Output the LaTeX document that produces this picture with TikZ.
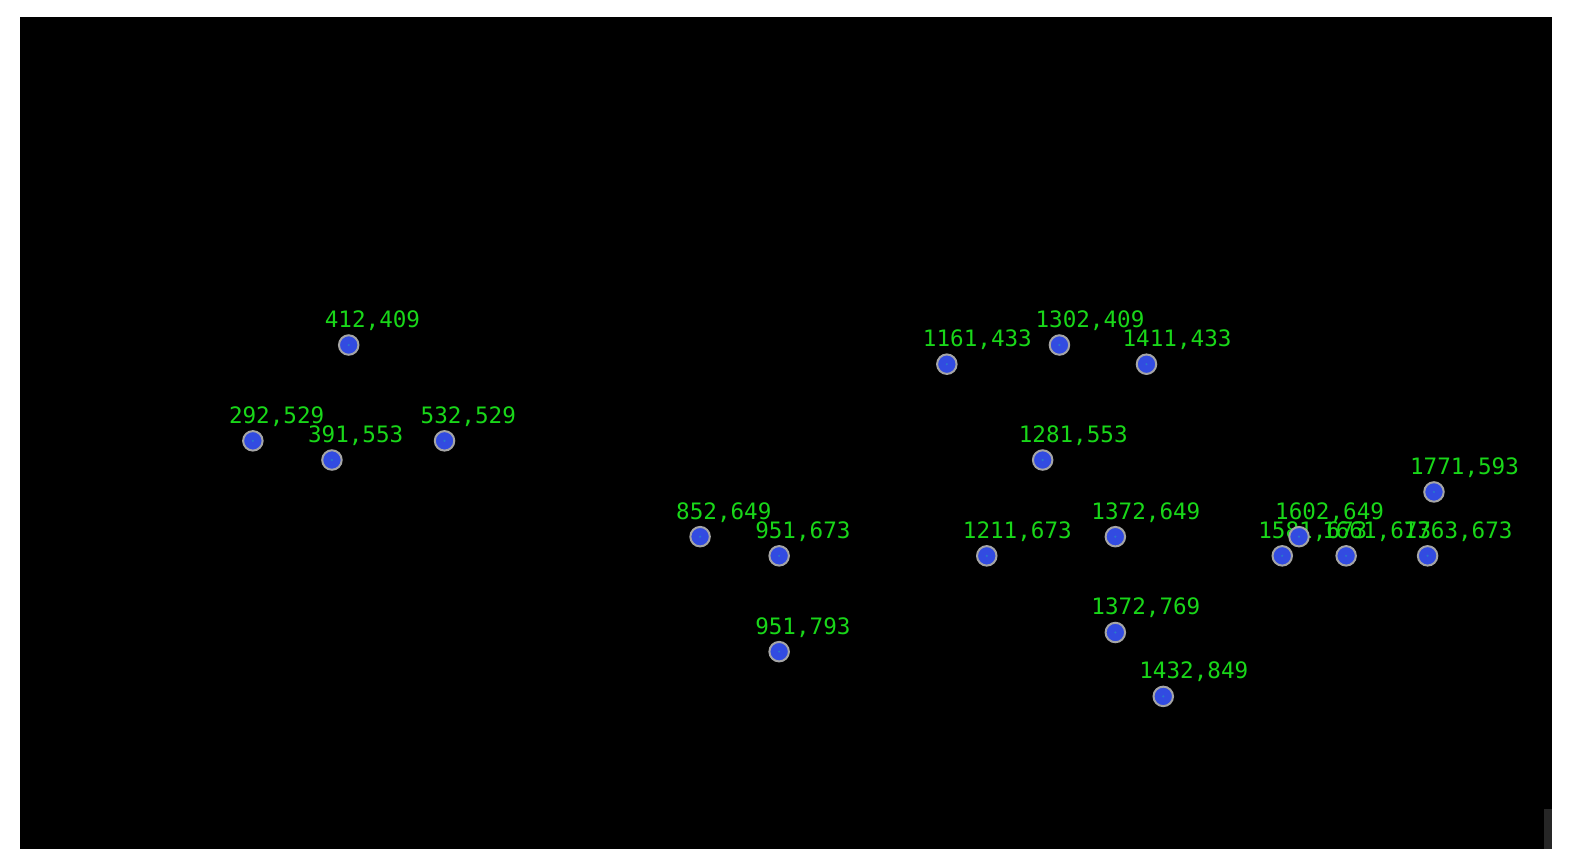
\documentclass[tikz,border=0pt]{standalone}
\usepackage{fontspec}
\newfontfamily\numfont{DejaVu Sans Mono}
\usepackage{tikz}
\definecolor{verde}{RGB}{25,215,25}
\definecolor{blu}{RGB}{50,75,225}
\definecolor{anello}{RGB}{165,165,165}
\definecolor{centro}{RGB}{40,120,205}
\definecolor{barra}{RGB}{38,38,38}
\tikzset{
	punto/.style={circle,fill=blu,draw=anello,line width=1pt,minimum size=9.75pt,inner sep=0pt},
	etichetta/.style={anchor=base west,text=verde,inner sep=0pt,font=\numfont\fontsize{11.3}{11.3}\selectfont}
}

\begin{document}
\begin{tikzpicture}[x=0.5pt,y=-0.5pt]
		\useasboundingbox (0,0) rectangle (1575,867);
		% Sfondo
		\fill [black] (20,17) rectangle (1552,849);
		\fill [barra] (1544,809) rectangle (1552,849);
		
		\begin{scope}[shift={(19.7,18.4)},scale=0.7986]
		% Etichette
		\foreach \X/\Y [count=\i] in {412/409,292/529,391/553,532/529,852/649,951/673,951/793,1161/433,1302/409,1411/433,1281/553,1211/673,1372/649,1372/769,1432/849,1771/593,1602/649,1581/673,1661/673,1763/673}{
			\coordinate (c\i) at (\X,\Y);
			\node [etichetta] (t\i) at ([xshift=-15.2pt,yshift=11pt]c\i) {\X,\Y};
		}
		% Punti
		\foreach \i in {1,...,20}{
			\node [punto] (p\i) at (c\i) {};
			\fill [centro] (p\i.center) circle (1.5);
		}
		\end{scope}
	\end{tikzpicture}
\end{document}
